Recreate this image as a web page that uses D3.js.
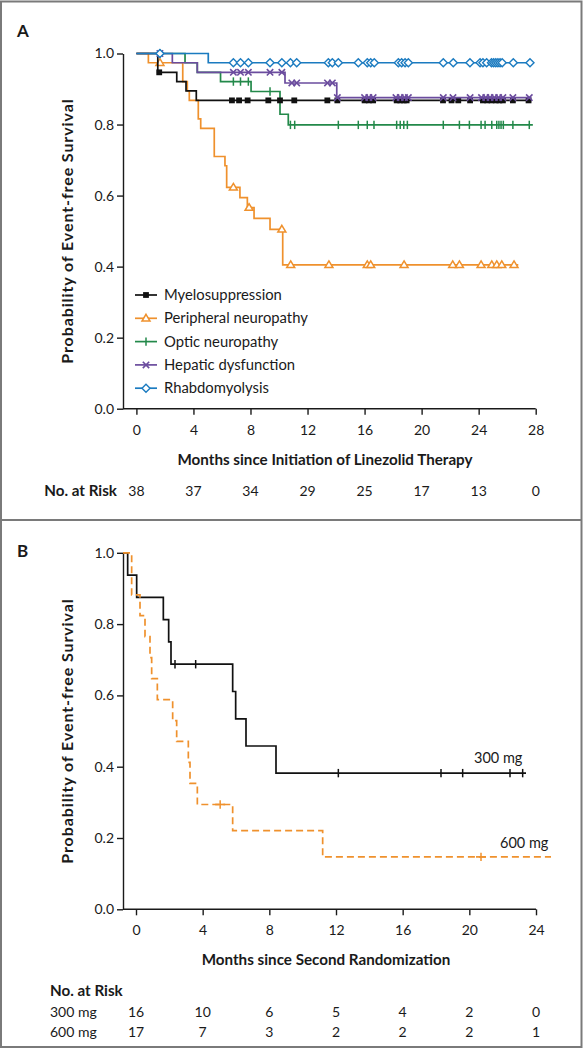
<!DOCTYPE html>
<html><head><meta charset="utf-8">
<script src="https://cdn.jsdelivr.net/npm/d3@7"></script>
<style>
html,body{margin:0;padding:0;background:#fff;}
svg{display:block;font-family:Lato,"Open Sans",sans-serif;}
</style></head><body>
<svg id="c" width="583" height="1050"></svg>
<script>
// ---------- Panel A data ----------
const ticksA = [0,4,8,12,16,20,24,28];
const riskA = [38,37,34,29,25,17,13,0];
const yTicks = [0,0.2,0.4,0.6,0.8,1.0];
const seriesNamesA = ["Myelosuppression","Peripheral neuropathy","Optic neuropathy","Hepatic dysfunction","Rhabdomyolysis"];

const myeloSteps = [[0,1],[1.5,0.947],[2.83,0.921],[3.48,0.895],[4.2,0.868]];
const myeloEnd = 27.7;
const myeloCens = [1.6,6.7,7.2,7.8,9.25,10.07,11.07,13.39,14.09,16.0,16.3,16.6,18.25,18.5,18.75,18.95,21.5,22.1,22.57,23.4,24.3,24.6,24.9,25.2,25.45,25.7,26.4,27.5];

const periphSteps = [[0,1],[0.84,0.974],[3.25,0.921],[3.57,0.895],[3.71,0.868],[4.34,0.816],[4.51,0.789],[5.46,0.710],[6.21,0.684],[6.33,0.623],[7.26,0.594],[7.78,0.566],[8.25,0.536],[9.37,0.505],[10.26,0.405]];
const periphEnd = 26.78;
const periphCens = [1.65,6.8,7.9,10.2,10.82,13.5,16.19,16.43,18.77,22.18,22.65,24.17,24.92,25.27,25.62,26.48];

const opticSteps = [[0,1],[3.41,0.974],[4.27,0.947],[5.9,0.921],[8.04,0.893],[10.07,0.829],[10.65,0.799]];
const opticEnd = 27.8;
const opticCens = [1.65,6.8,7.3,7.85,9.37,10.8,11.1,14.16,15.56,16.19,16.66,18.25,18.5,18.75,19.0,21.52,22.65,23.35,24.17,24.45,24.92,25.27,25.42,25.57,25.73,26.4,27.55];

const hepaticSteps = [[0,1],[2.52,0.974],[4.27,0.947],[10.42,0.917],[14.05,0.876]];
const hepaticEnd = 27.7;
const hepaticCens = [1.65,6.8,7.3,7.85,9.37,10.2,10.9,11.24,13.4,13.74,14.09,16.0,16.3,16.6,18.2,18.5,18.8,19.07,21.52,22.2,23.4,24.2,24.5,24.8,25.1,25.4,25.7,26.4,27.55];

const rhabdoSteps = [[0,1],[5.04,0.974]];
const rhabdoEnd = 27.7;
const rhabdoCens = [1.65,6.8,7.3,7.85,9.37,10.2,10.8,11.24,13.46,13.74,14.16,15.56,16.19,16.43,16.68,18.37,18.6,18.84,19.07,21.52,22.22,23.39,24.1,24.3,24.56,24.9,25.05,25.2,25.35,25.5,25.65,26.43,27.6];

// ---------- Panel B data ----------
const ticksB = [0,4,8,12,16,20,24];
const groupsB = ["300 mg","600 mg"];
const risk300 = [16,10,6,5,4,2,0];
const risk600 = [17,7,3,2,2,2,1];
const steps300 = [[-0.78,1],[-0.5,0.9375],[0.04,0.875],[1.64,0.8125],[1.96,0.75],[2.1,0.6875],[5.8,0.611],[5.98,0.534],[6.6,0.458],[8.4,0.382]];
const end300 = 23.4;
const cens300 = [2.34,3.58,12.14,18.3,19.6,22.44,23.2];
const steps600 = [[-0.78,1],[-0.26,0.882],[0.24,0.824],[0.54,0.765],[0.84,0.706],[0.94,0.647],[1.28,0.588],[2.2,0.529],[2.44,0.471],[3.14,0.412],[3.24,0.353],[3.68,0.294],[5.8,0.2205],[11.2,0.147]];
const end600 = 24.9;
const cens600 = [5.05,20.7];

// ---------- drawing ----------
const svg = d3.select("#c");
const TXT = "#1a1a1a";
const colors = {black:"#111111", orange:"#ef912d", green:"#23894a", purple:"#6b4c9e", blue:"#1b7bc0"};
const TICKFS = "14px", TITLEFS = "15.2px";

// frame
const frame = svg.append("g").attr("fill","none").attr("stroke","#7a7a7a").attr("stroke-width",2);
frame.append("rect").attr("x",1).attr("y",1.5).attr("width",580.5).attr("height",1045.5);
frame.append("line").attr("x1",1).attr("x2",581.5).attr("y1",520).attr("y2",520);

function survAt(steps,t){let s=steps[0][1];for(const st of steps){if(st[0]<=t)s=st[1];}return s;}

function drawAxes(g,x,y,ticks,xAxisLeft){
  const yAx = d3.axisLeft(y).tickValues(yTicks).tickFormat(d3.format(".1f")).tickSize(6).tickSizeOuter(0).tickPadding(3);
  const ga = g.append("g").attr("transform",`translate(${xAxisLeft},0)`).call(yAx);
  const xAx = d3.axisBottom(x).tickValues(ticks).tickFormat(d3.format("d")).tickSize(6).tickSizeOuter(0).tickPadding(10);
  const gb = g.append("g").attr("transform",`translate(0,${y(0)})`).call(xAx);
  gb.select(".domain").remove();
  g.append("line").attr("x1",xAxisLeft).attr("x2",x(ticks[ticks.length-1])).attr("y1",y(0)).attr("y2",y(0)).attr("stroke",TXT).attr("stroke-width",1.4);
  [ga,gb].forEach(a=>{
    a.selectAll(".domain").attr("stroke",TXT).attr("stroke-width",1.4);
    a.selectAll(".tick line").attr("stroke",TXT).attr("stroke-width",1.4);
    a.selectAll(".tick text").attr("fill",TXT).style("font-size",TICKFS).style("font-family","Lato");
  });
}

function stepPath(x,y,steps,end){
  const pts = steps.concat([[end,steps[steps.length-1][1]]]);
  return d3.line().x(d=>x(d[0])).y(d=>y(d[1])).curve(d3.curveStepAfter)(pts);
}

function marker(g,kind,cx,cy,color){
  if(kind==="square"){
    g.append("rect").attr("x",cx-2.9).attr("y",cy-2.9).attr("width",5.8).attr("height",5.8).attr("fill",color);
  } else if(kind==="triangle"){
    g.append("path").attr("d",`M${cx},${cy-4}L${cx+4},${cy+2.7}L${cx-4},${cy+2.7}Z`).attr("fill","#fff").attr("stroke",color).attr("stroke-width",1.5);
  } else if(kind==="tick"){
    g.append("line").attr("x1",cx).attr("x2",cx).attr("y1",cy-4.2).attr("y2",cy+4.2).attr("stroke",color).attr("stroke-width",1.5);
  } else if(kind==="x"){
    g.append("path").attr("d",`M${cx-3.2},${cy-3.2}L${cx+3.2},${cy+3.2}M${cx-3.2},${cy+3.2}L${cx+3.2},${cy-3.2}`).attr("stroke",color).attr("stroke-width",1.6);
  } else if(kind==="diamond"){
    g.append("path").attr("d",`M${cx},${cy-4}L${cx+4},${cy}L${cx},${cy+4}L${cx-4},${cy}Z`).attr("fill","#fff").attr("stroke",color).attr("stroke-width",1.4);
  }
}

function yTitle(g,y){
  g.append("text").attr("transform",`translate(73,${(y(0)+y(1))/2}) rotate(-90)`).attr("text-anchor","middle")
    .text("Probability of Event-free Survival").attr("fill",TXT).style("font-size","16px").style("font-weight","700").style("letter-spacing","0.9px");
}

// ----- Panel A -----
const xA = d3.scaleLinear().domain([0,28]).range([136.4,535.7]);
const yA = d3.scaleLinear().domain([0,1]).range([408.7,53.5]);
const gA = svg.append("g");
gA.append("text").attr("x",17).attr("y",37).text("A").attr("fill",TXT).style("font-size","17px").style("font-weight","700");
drawAxes(gA,xA,yA,ticksA,123);
yTitle(gA,yA);
gA.append("text").attr("x",325).attr("y",465).attr("text-anchor","middle")
  .text("Months since Initiation of Linezolid Therapy").attr("fill",TXT).style("font-size",TITLEFS).style("font-weight","700");
gA.append("text").attr("x",117).attr("y",496).attr("text-anchor","end").text("No. at Risk").attr("fill",TXT).style("font-size",TITLEFS).style("font-weight","700");
gA.selectAll("text.riskA").data(riskA).enter().append("text").attr("class","riskA")
  .attr("x",(d,i)=>xA(ticksA[i])).attr("y",496).attr("text-anchor","middle").text(d=>d).attr("fill",TXT).style("font-size",TICKFS);

const seriesA = [
  {steps:myeloSteps,end:myeloEnd,cens:myeloCens,color:colors.black,kind:"square"},
  {steps:periphSteps,end:periphEnd,cens:periphCens,color:colors.orange,kind:"triangle"},
  {steps:opticSteps,end:opticEnd,cens:opticCens,color:colors.green,kind:"tick"},
  {steps:hepaticSteps,end:hepaticEnd,cens:hepaticCens,color:colors.purple,kind:"x"},
  {steps:rhabdoSteps,end:rhabdoEnd,cens:rhabdoCens,color:colors.blue,kind:"diamond"}
];
const drawOrder = [2,1,0,3,4];
drawOrder.forEach(i=>{
  const s = seriesA[i];
  const g = gA.append("g");
  g.append("path").attr("d",stepPath(xA,yA,s.steps,s.end)).attr("fill","none").attr("stroke",s.color).attr("stroke-width",1.7);
  s.cens.forEach(t=>marker(g,s.kind,xA(t),yA(survAt(s.steps,t)),s.color));
});
// legend
const lg = gA.append("g");
seriesA.forEach((s,i)=>{
  const ly = 295 + i*23.3;
  lg.append("line").attr("x1",135).attr("x2",157).attr("y1",ly).attr("y2",ly).attr("stroke",s.color).attr("stroke-width",1.7);
  marker(lg,s.kind,146,ly,s.color);
  lg.append("text").attr("x",164).attr("y",ly+5).text(seriesNamesA[i]).attr("fill",TXT).style("font-size","14.8px");
});

// ----- Panel B -----
const xB = d3.scaleLinear().domain([0,24]).range([136,536]);
const yB = d3.scaleLinear().domain([0,1]).range([909.3,552.8]);
const gB = svg.append("g");
gB.append("text").attr("x",17).attr("y",557).text("B").attr("fill",TXT).style("font-size","17px").style("font-weight","700");
drawAxes(gB,xB,yB,ticksB,123);
yTitle(gB,yB);
gB.append("text").attr("x",326).attr("y",965).attr("text-anchor","middle")
  .text("Months since Second Randomization").attr("fill",TXT).style("font-size",TITLEFS).style("font-weight","700");
gB.append("text").attr("x",50).attr("y",996).text("No. at Risk").attr("fill",TXT).style("font-size",TITLEFS).style("font-weight","700");
[risk300,risk600].forEach((row,r)=>{
  const ry = 1017 + r*19.7;
  gB.append("text").attr("x",50).attr("y",ry).text(groupsB[r]).attr("fill",TXT).style("font-size",TICKFS);
  row.forEach((v,i)=>{
    gB.append("text").attr("x",xB(ticksB[i])).attr("y",ry).attr("text-anchor","middle").text(v).attr("fill",TXT).style("font-size",TICKFS);
  });
});
const g300 = gB.append("g");
g300.append("path").attr("d",stepPath(xB,yB,steps300,end300)).attr("fill","none").attr("stroke",colors.black).attr("stroke-width",1.7);
cens300.forEach(t=>marker(g300,"tick",xB(t),yB(survAt(steps300,t)),colors.black));
const g600 = gB.append("g");
g600.append("path").attr("d",stepPath(xB,yB,steps600,end600)).attr("fill","none").attr("stroke",colors.orange).attr("stroke-width",1.7).attr("stroke-dasharray","7,4");
cens600.forEach(t=>{
  const cx=xB(t), cy=yB(survAt(steps600,t));
  marker(g600,"tick",cx,cy,colors.orange);
  g600.append("line").attr("x1",cx-5).attr("x2",cx+5).attr("y1",cy).attr("y2",cy).attr("stroke",colors.orange).attr("stroke-width",1.7);
});
gB.append("text").attr("x",474).attr("y",yB(survAt(steps300,end300))-10).text(groupsB[0]).attr("fill",TXT).style("font-size","14.5px");
gB.append("text").attr("x",500).attr("y",yB(survAt(steps600,end600))-9).text(groupsB[1]).attr("fill",TXT).style("font-size","14.5px");
</script>
</body></html>
